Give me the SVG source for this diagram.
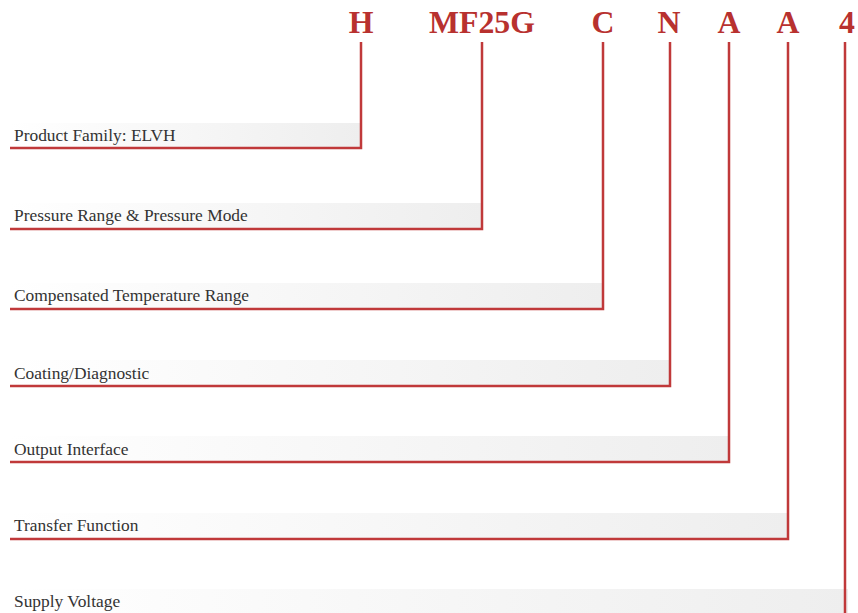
<svg xmlns="http://www.w3.org/2000/svg" width="858" height="613" viewBox="0 0 858 613">
<style>
.code{font-family:"Liberation Serif",serif;font-weight:bold;font-size:31.8px;fill:#b8312f;text-anchor:middle}
.lbl{font-family:"Liberation Serif",serif;font-size:17.4px;fill:#333}
.ln{fill:none;stroke:#c0393a;stroke-width:2.5}
.band{fill:url(#g)}
</style>
<defs>
<linearGradient id="g" x1="0" y1="0" x2="1" y2="0">
<stop offset="0" stop-color="#ffffff"/>
<stop offset="1" stop-color="#eeeeee"/>
</linearGradient>
</defs>
<rect width="858" height="613" fill="#fff"/>
<g id="codes">
<text class="code" x="361" y="33">H</text>
<text class="code" x="482" y="33">MF25G</text>
<text class="code" x="603" y="33">C</text>
<text class="code" x="669" y="33">N</text>
<text class="code" x="729" y="33">A</text>
<text class="code" x="788" y="33">A</text>
<text class="code" x="847" y="33">4</text>
</g>
<g id="n1"><rect class="band" x="10" y="123" width="351" height="25"/><text class="lbl" x="14" y="141">Product Family: ELVH</text></g>
<g id="n2"><rect class="band" x="10" y="203" width="472" height="26"/><text class="lbl" x="14" y="221">Pressure Range &amp; Pressure Mode</text></g>
<g id="n3"><rect class="band" x="10" y="283" width="593" height="26"/><text class="lbl" x="14" y="301">Compensated Temperature Range</text></g>
<g id="n4"><rect class="band" x="10" y="360" width="660" height="26"/><text class="lbl" x="14" y="379">Coating/Diagnostic</text></g>
<g id="n5"><rect class="band" x="10" y="436" width="719" height="26"/><text class="lbl" x="14" y="455">Output Interface</text></g>
<g id="n6"><rect class="band" x="10" y="513" width="778" height="26"/><text class="lbl" x="14" y="531">Transfer Function</text></g>
<g id="n7"><rect class="band" x="10" y="589" width="838" height="24"/><text class="lbl" x="14" y="607">Supply Voltage</text></g>
<g id="connectors">
<path class="ln" d="M361 42V148H10"/>
<path class="ln" d="M482 42V229H10"/>
<path class="ln" d="M603 42V309H10"/>
<path class="ln" d="M670 42V386H10"/>
<path class="ln" d="M729 42V462H10"/>
<path class="ln" d="M788 42V539H10"/>
<path class="ln" d="M845 42V613"/>
</g>
</svg>
